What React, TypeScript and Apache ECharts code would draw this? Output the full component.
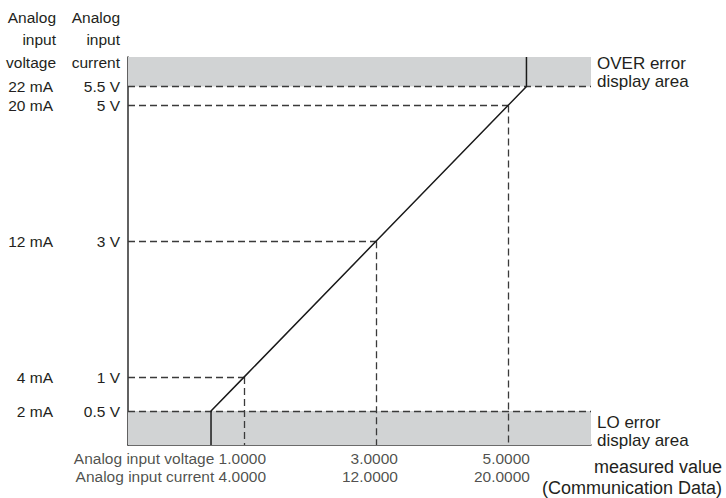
import React, { useEffect, useRef } from "react";
import * as echarts from "echarts";

// ---- data ----
const X_MIN = -0.758;
const X_MAX = 6.258;
const Y_MIN = 0;
const Y_MAX = 5.715;
const LOW_LIMIT = 0.5; // 0.5 V / 2 mA
const HIGH_LIMIT = 5.28; // schematic position of the 5.5 V / 22 mA row
const refPoints = [1, 3, 5];
const yTicks = [0.5, 1, 3, 5, 5.28];
const voltLabels = ["0.5 V", "1 V", "3 V", "5 V", "5.5 V"];
const currLabels = ["2 mA", "4 mA", "12 mA", "20 mA", "22 mA"];
const xVoltLabels = ["1.0000", "3.0000", "5.0000"];
const xCurrLabels = ["4.0000", "12.0000", "20.0000"];
const lineX = [0.5, 0.5, 1, 3, 5, 5.28, 5.28];
const lineY = [0, 0.5, 1, 3, 5, 5.28, 5.715];

const FONT = "'Liberation Sans', Arial, Helvetica, sans-serif";
const TXT = "#231f20";
const DASH = { type: [7, 4] as any, color: "#3a3a3a", width: 1.3 };

export default function App() {
  const ref = useRef<HTMLDivElement>(null);
  useEffect(() => {
    if (!ref.current) return;
    const chart = echarts.init(ref.current, undefined, { renderer: "svg" });
    const dashSegments: any[] = [];
    refPoints.forEach((p) => {
      dashSegments.push([{ coord: [X_MIN, p] }, { coord: [p, p] }]);
      dashSegments.push([{ coord: [p, p] }, { coord: [p, Y_MIN] }]);
    });
    dashSegments.push({ yAxis: LOW_LIMIT });
    dashSegments.push({ yAxis: HIGH_LIMIT });

    const option: any = {
      animation: false,
      grid: { left: 128, right: 135, top: 57, bottom: 53 },
      xAxis: {
        type: "value",
        min: X_MIN,
        max: X_MAX,
        axisLine: { show: true, onZero: false, lineStyle: { color: "#3a3a3a", width: 1.6 } },
        axisTick: { show: false },
        axisLabel: { show: false },
        splitLine: { show: false },
      },
      yAxis: [
        {
          type: "value",
          min: Y_MIN,
          max: Y_MAX,
          position: "left",
          axisLine: { show: true, onZero: false, lineStyle: { color: "#3a3a3a", width: 1.6 } },
          axisTick: { show: false },
          splitLine: { show: false },
          axisLabel: {
            customValues: yTicks,
            margin: 8,
            fontSize: 15.5,
            fontFamily: FONT,
            color: TXT,
            formatter: (v: number) => voltLabels[yTicks.indexOf(v)] ?? "",
          },
        },
        {
          type: "value",
          min: Y_MIN,
          max: Y_MAX,
          position: "left",
          axisLine: { show: false, onZero: false },
          axisTick: { show: false },
          splitLine: { show: false },
          axisLabel: {
            customValues: yTicks,
            margin: 75,
            fontSize: 15.5,
            fontFamily: FONT,
            color: TXT,
            formatter: (v: number) => currLabels[yTicks.indexOf(v)] ?? "",
          },
        },
      ],
      series: [
        {
          type: "line",
          name: "bands",
          data: [],
          silent: true,
          markArea: {
            silent: true,
            itemStyle: { color: "#d1d3d4" },
            data: [
              [{ yAxis: Y_MIN }, { yAxis: LOW_LIMIT }],
              [{ yAxis: HIGH_LIMIT }, { yAxis: Y_MAX }],
            ],
          },
          markLine: {
            silent: true,
            symbol: ["none", "none"],
            label: { show: false },
            lineStyle: DASH,
            data: dashSegments,
          },
        },
        {
          type: "line",
          name: "conversion",
          data: lineX.map((x, i) => [x, lineY[i]]),
          showSymbol: false,
          symbol: "none",
          lineStyle: { color: "#1a1a1a", width: 1.5 },
          z: 5,
        },
        {
          type: "scatter",
          name: "xlabels",
          data: refPoints.map((p) => [p, Y_MIN]),
          symbolSize: 0,
          silent: true,
          label: {
            show: true,
            position: "bottom",
            distance: 4,
            align: "right",
            offset: [22, 0],
            fontSize: 15.5,
            lineHeight: 18,
            fontFamily: FONT,
            color: TXT,
            formatter: (p: any) => {
              const i = p.dataIndex;
              if (i === 0)
                return `Analog input voltage ${xVoltLabels[i]}\nAnalog input current ${xCurrLabels[i]}`;
              return `${xVoltLabels[i]}\n${xCurrLabels[i]}`;
            },
          },
        },
      ],
      graphic: [
        {
          type: "text",
          x: 56,
          y: 6,
          style: {
            text: "Analog\ninput\nvoltage",
            align: "right",
            verticalAlign: "top",
            lineHeight: 22.5,
            fontSize: 15.5,
            fontFamily: FONT,
            fill: TXT,
          },
        },
        {
          type: "text",
          x: 120,
          y: 6,
          style: {
            text: "Analog\ninput\ncurrent",
            align: "right",
            verticalAlign: "top",
            lineHeight: 22.5,
            fontSize: 15.5,
            fontFamily: FONT,
            fill: TXT,
          },
        },
        {
          type: "text",
          x: 597,
          y: 54,
          style: {
            text: "OVER error\ndisplay area",
            align: "left",
            verticalAlign: "top",
            lineHeight: 18,
            fontSize: 17,
            fontFamily: FONT,
            fill: TXT,
          },
        },
        {
          type: "text",
          x: 597,
          y: 413,
          style: {
            text: "LO error\ndisplay area",
            align: "left",
            verticalAlign: "top",
            lineHeight: 18,
            fontSize: 17,
            fontFamily: FONT,
            fill: TXT,
          },
        },
        {
          type: "text",
          x: 722,
          y: 456,
          style: {
            text: "measured value\n(Communication Data)",
            align: "right",
            verticalAlign: "top",
            lineHeight: 21,
            fontSize: 18,
            fontFamily: FONT,
            fill: TXT,
          },
        },
      ],
    };
    chart.setOption(option);
    return () => chart.dispose();
  }, []);
  return (
    <div
      ref={ref}
      style={{ position: "fixed", left: 0, top: 0, width: 726, height: 498, background: "#fff" }}
    />
  );
}
